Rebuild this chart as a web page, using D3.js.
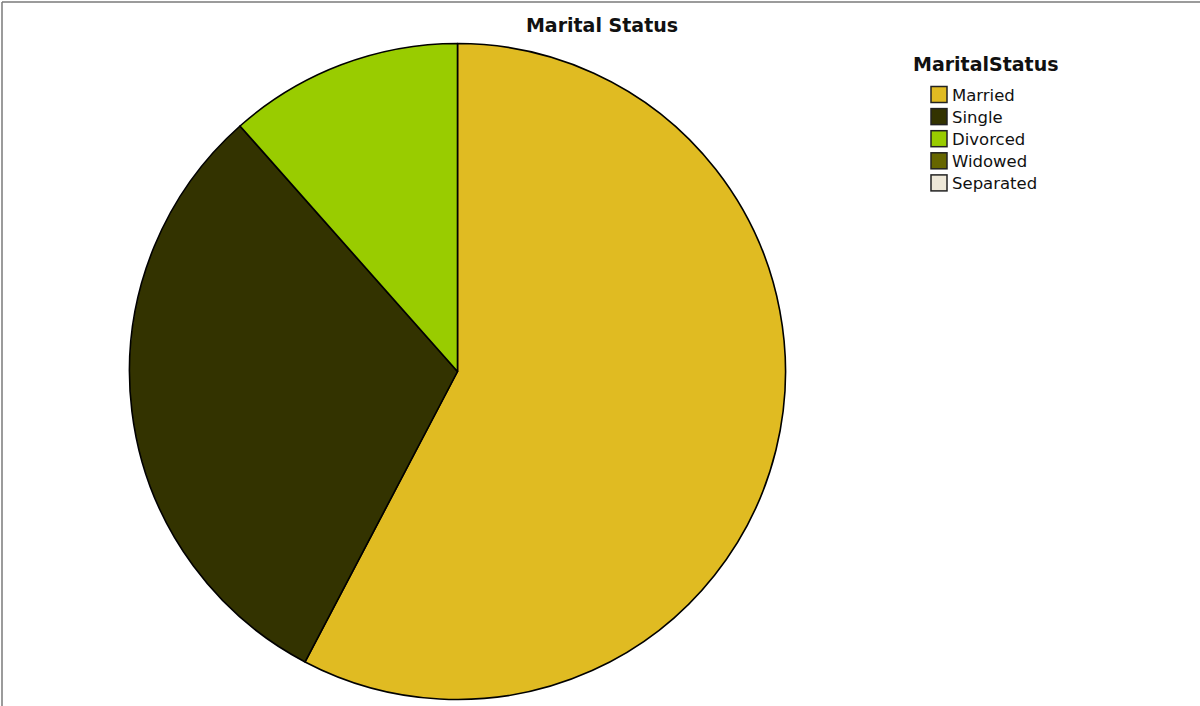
<!DOCTYPE html>
<html>
<head>
<meta charset="utf-8">
<script src="https://cdn.jsdelivr.net/npm/d3@7"></script>
<style>
  html, body { margin: 0; padding: 0; background: #fff; }
  svg { display: block; }
</style>
</head>
<body>
<svg id="chart" width="1200" height="706"></svg>
<script>
// ---- data ----
const categories = ["Married", "Single", "Divorced", "Widowed", "Separated"];
const counts = [30, 16, 6, 0, 0];
const colors = ["#e0bb22", "#333300", "#99cc00", "#666600", "#eee8d8"];
const chartTitle = "Marital Status";
const legendTitle = "MaritalStatus";

const svg = d3.select("#chart");
const W = 1200, H = 706;

// frame lines (top and left)
svg.append("line").attr("x1", 2).attr("x2", W).attr("y1", 2).attr("y2", 2)
  .attr("stroke", "#7a7a7a").attr("stroke-width", 1.5);
svg.append("line").attr("x1", 2).attr("x2", 2).attr("y1", 2).attr("y2", H)
  .attr("stroke", "#7a7a7a").attr("stroke-width", 1.5);

// title
svg.append("text").attr("x", 602).attr("y", 32)
  .attr("text-anchor", "middle")
  .attr("font-family", "DejaVu Sans, sans-serif")
  .attr("font-weight", "bold").attr("font-size", 19)
  .attr("fill", "#111").text(chartTitle);

// pie
const cx = 457.5, cy = 371.5, r = 328;
const color = d3.scaleOrdinal().domain(categories).range(colors);
const pie = d3.pie().sort(null).value(d => d.v);
const arc = d3.arc().innerRadius(0).outerRadius(r);
const data = categories.map((c, i) => ({ c, v: counts[i] }));

const g = svg.append("g").attr("transform", `translate(${cx},${cy})`);
g.selectAll("path").data(pie(data).filter(d => d.data.v > 0)).join("path")
  .attr("d", arc)
  .attr("fill", d => color(d.data.c))
  .attr("stroke", "#000").attr("stroke-width", 1.6)
  .attr("stroke-linejoin", "round");

// legend
const lg = svg.append("g");
lg.append("text").attr("x", 913).attr("y", 71)
  .attr("font-family", "DejaVu Sans, sans-serif")
  .attr("font-weight", "bold").attr("font-size", 19)
  .attr("fill", "#111").text(legendTitle);

const rowY = d3.scaleBand().domain(categories).range([86, 196.5]).paddingInner(0);
const item = lg.selectAll("g.item").data(categories).join("g").attr("class", "item")
  .attr("transform", d => `translate(931,${rowY(d)})`);
item.append("rect").attr("x", 0).attr("y", 0.5).attr("width", 16).attr("height", 16)
  .attr("fill", d => color(d)).attr("stroke", "#222").attr("stroke-width", 1.5);
item.append("text").attr("x", 21).attr("y", 15)
  .attr("font-family", "DejaVu Sans, sans-serif")
  .attr("font-size", 16.5).attr("fill", "#111").text(d => d);
</script>
</body>
</html>
